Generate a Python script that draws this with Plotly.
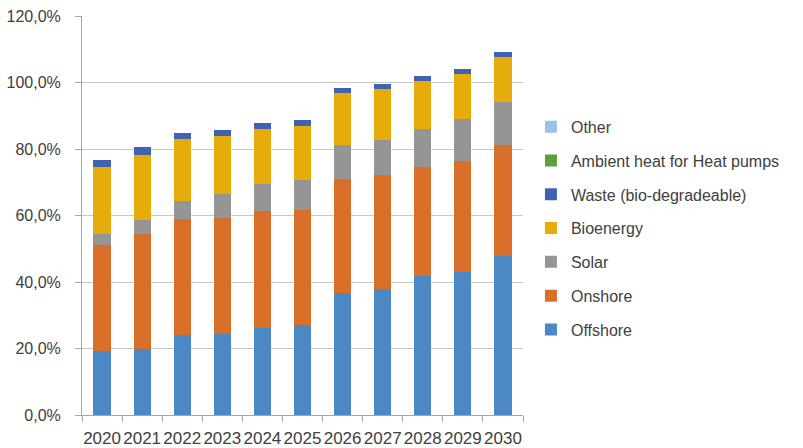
import plotly.graph_objects as go

years = ["2020", "2021", "2022", "2023", "2024", "2025",
         "2026", "2027", "2028", "2029", "2030"]

# Share by source, percent (stacked)
offshore = [19.1, 19.9, 24.1, 24.5, 26.3, 27.1, 36.7, 38.0, 41.7, 42.9, 47.9]
onshore = [31.9, 34.4, 34.8, 34.9, 35.2, 34.6, 34.3, 34.1, 32.8, 33.4, 33.2]
solar = [3.4, 4.4, 5.6, 7.2, 8.0, 9.1, 10.1, 10.7, 11.5, 12.6, 13.0]
bioenergy = [20.1, 19.6, 18.5, 17.2, 16.6, 16.0, 15.6, 15.1, 14.4, 13.6, 13.5]
waste = [2.1, 2.3, 1.8, 2.0, 1.8, 1.8, 1.7, 1.7, 1.7, 1.6, 1.7]
ambient_heat = [0.0] * 11
other = [0.0] * 11

y_ticks = [0, 20, 40, 60, 80, 100, 120]
y_tick_labels = ["0,0%", "20,0%", "40,0%", "60,0%", "80,0%", "100,0%", "120,0%"]

series = [
    ("Offshore", offshore, "#4C88C4"),
    ("Onshore", onshore, "#D8702A"),
    ("Solar", solar, "#959595"),
    ("Bioenergy", bioenergy, "#E6AC0C"),
    ("Waste (bio-degradeable)", waste, "#3F63B0"),
    ("Ambient heat for Heat pumps", ambient_heat, "#5E9E3E"),
    ("Other", other, "#9DC1E6"),
]

fig = go.Figure()
n = len(series)
for i, (name, vals, color) in enumerate(series):
    fig.add_trace(go.Bar(
        x=years, y=vals, name=name, legendgroup=name,
        legendrank=100 * (n - i),  # top of stack listed first
        marker=dict(color=color, line=dict(width=0)),
    ))

font_family = "Liberation Sans, Arial, sans-serif"
text_color = "#404040"

fig.update_layout(
    width=803, height=448,
    barmode="stack", bargap=0.57,
    margin=dict(l=82, r=280, t=16, b=33),
    paper_bgcolor="white", plot_bgcolor="white",
    font=dict(family=font_family, color=text_color, size=17),
    showlegend=True,
    legend=dict(
        traceorder="grouped", tracegroupgap=10,
        x=1.018, xanchor="left", y=0.468, yanchor="middle",
        font=dict(size=16, color=text_color),
        itemwidth=30, bgcolor="rgba(0,0,0,0)",
    ),
    xaxis=dict(
        type="category", showgrid=False, automargin=False,
        showline=True, linecolor="#A6A6A6", linewidth=1,
        ticks="outside", tickson="boundaries", ticklen=6, tickcolor="#A6A6A6",
        tickangle=0, ticklabelstandoff=8,
        tickfont=dict(size=17, color=text_color),
    ),
    yaxis=dict(
        range=[0, 120], tickvals=y_ticks, ticktext=y_tick_labels,
        automargin=False,
        showgrid=True, gridcolor="#C8C8C8", gridwidth=1,
        showline=True, linecolor="#A6A6A6", linewidth=1,
        ticks="outside", ticklen=6, tickcolor="#A6A6A6",
        ticklabelstandoff=11,
        tickfont=dict(size=16, color=text_color),
        zeroline=False,
    ),
)

fig.write_html("out.html")
